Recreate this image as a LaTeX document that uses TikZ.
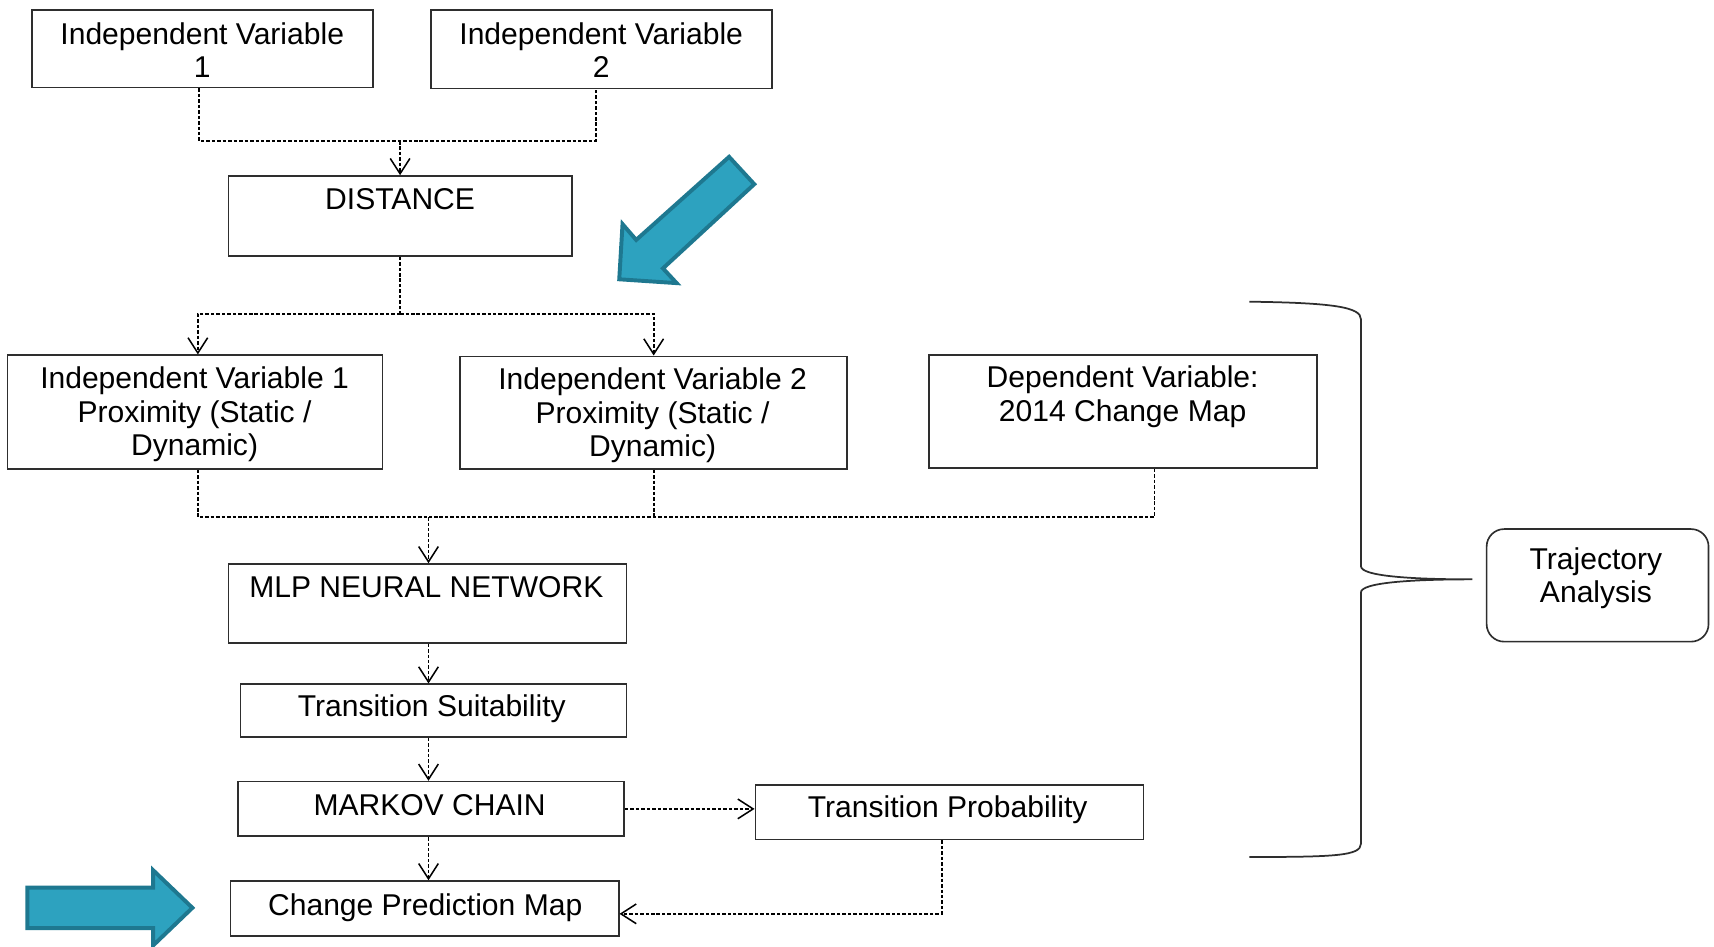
\documentclass[tikz,border=0pt]{standalone}
\usepackage{fontspec}
\setmainfont{Liberation Sans}
\usetikzlibrary{arrows.meta}
\definecolor{boxline}{HTML}{2E2E2E}
\definecolor{bluefill}{HTML}{2DA2BF}
\definecolor{blueedge}{HTML}{1E7890}
\tikzset{
  bx/.style={draw=boxline, line width=0.75pt, inner sep=0pt, fill=white},
  txt/.style={inner sep=0pt, align=center, font=\fontsize{13.75pt}{15.25pt}\selectfont},
  dl/.style={draw=black, line width=0.75pt, dash pattern=on 1.6pt off 0.9pt},
  arr/.style={dl, -{Straight Barb[length=7pt, width=9pt, line width=0.7pt]}},
  bigarrow/.style={fill=bluefill, draw=blueedge, line width=1.8pt, line join=miter},
  bracepath/.style={draw=boxline, line width=0.8pt}
}
\begin{document}
\begin{tikzpicture}[x=0.5pt, y=-0.5pt]
\useasboundingbox (0,0) rectangle (1568,866);
\fill[white] (0,0) rectangle (1568,866);

% boxes
\node[bx, minimum width=156pt, minimum height=35.5pt] (iv1) at (185,44.5) {};
\node[bx, minimum width=156pt, minimum height=36pt] (iv2) at (550,45) {};
\node[bx, minimum width=157pt, minimum height=36.5pt] (dist) at (366,197.5) {};
\node[bx, minimum width=171.5pt, minimum height=52pt] (iv1p) at (178.5,377) {};
\node[bx, minimum width=177pt, minimum height=51.5pt] (iv2p) at (598,377.5) {};
\node[bx, minimum width=177.5pt, minimum height=51.5pt] (dv) at (1027.5,376.5) {};
\node[bx, minimum width=182pt, minimum height=36pt] (mlp) at (391,552) {};
\node[bx, minimum width=176.5pt, minimum height=24pt] (ts) at (396.5,650) {};
\node[bx, minimum width=176.5pt, minimum height=25pt] (mc) at (394.5,740) {};
\node[bx, minimum width=177.5pt, minimum height=25pt] (tp) at (868.5,743) {};
\node[bx, minimum width=177.5pt, minimum height=25pt] (cpm) at (388.5,831) {};
\node[bx, minimum width=101.5pt, minimum height=51.5pt, rounded corners=8pt] (traj) at (1461.5,535.5) {};

% texts
\node[txt] (t-iv1) at (185,46) {Independent Variable\\1};
\node[txt] (t-iv2) at (550,46) {Independent Variable\\2};
\node[txt] (t-dist) at (366,182) {DISTANCE};
\node[txt] (t-iv1p) at (178,379) {Independent Variable 1\\Proximity (Static /\\Dynamic)};
\node[txt] (t-iv2p) at (597,380) {Independent Variable 2\\Proximity (Static /\\Dynamic)};
\node[txt] (t-dv) at (1027,363) {Dependent Variable:\\2014 Change Map};
\node[txt] (t-mlp) at (390,537) {MLP NEURAL NETWORK};
\node[txt] (t-ts) at (395,648) {Transition Suitability};
\node[txt] (t-mc) at (393,737) {MARKOV CHAIN};
\node[txt] (t-tp) at (867,741) {Transition Probability};
\node[txt] (t-cpm) at (389,830) {Change Prediction Map};
\node[txt] (t-traj) at (1460,529) {Trajectory\\Analysis};

% junctions
\coordinate (j1) at (366,129);
\coordinate (j2) at (366,287);
\coordinate (j3) at (392,473);

% connectors
\draw[dl] ([xshift=-1.5pt]iv1.south) |- (j1) -| ([xshift=-2.5pt]iv2.south);
\draw[arr] (j1) -- (dist.north);
\draw[dl] (dist.south) -- (j2);
\draw[arr] (j2) -| ([xshift=1.25pt]iv1p.north);
\draw[arr] (j2) -| (iv2p.north);
\draw[dl] ([xshift=1.25pt]iv1p.south) |- (j3);
\draw[dl] (iv2p.south) -- (iv2p.south |- j3);
\draw[dl] ([xshift=14.25pt]dv.south) |- (j3);
\draw[arr] (j3) -- (j3 |- mlp.north);
\draw[arr] (j3 |- mlp.south) -- (j3 |- ts.north);
\draw[arr] (j3 |- ts.south) -- (j3 |- mc.north);
\draw[arr] (j3 |- mc.south) -- (j3 |- cpm.north);
\draw[arr] (mc.east) -- (mc.east -| tp.west);
\draw[arr] ([xshift=-3.5pt]tp.south) |- ([yshift=-2.5pt]cpm.east);

% brace
\draw[bracepath] (1143,276) .. controls (1220,277) and (1245,281) .. (1245,292)
  -- (1245,518) .. controls (1245,527) and (1290,530) .. (1347,530)
  .. controls (1290,530) and (1245,533) .. (1245,542)
  -- (1245,772) .. controls (1245,783) and (1220,784) .. (1143,784);

% blue arrows
\draw[bigarrow] (667,143.5) -- (690,168.5) -- (606.5,245.5) -- (619,259) -- (566.5,255.5) -- (569.5,205) -- (582,219.5) -- cycle;
\draw[bigarrow] (25,812) -- (140,812) -- (140,796) -- (176,830.5) -- (140,865) -- (140,849) -- (25,849) -- cycle;
\end{tikzpicture}
\end{document}
